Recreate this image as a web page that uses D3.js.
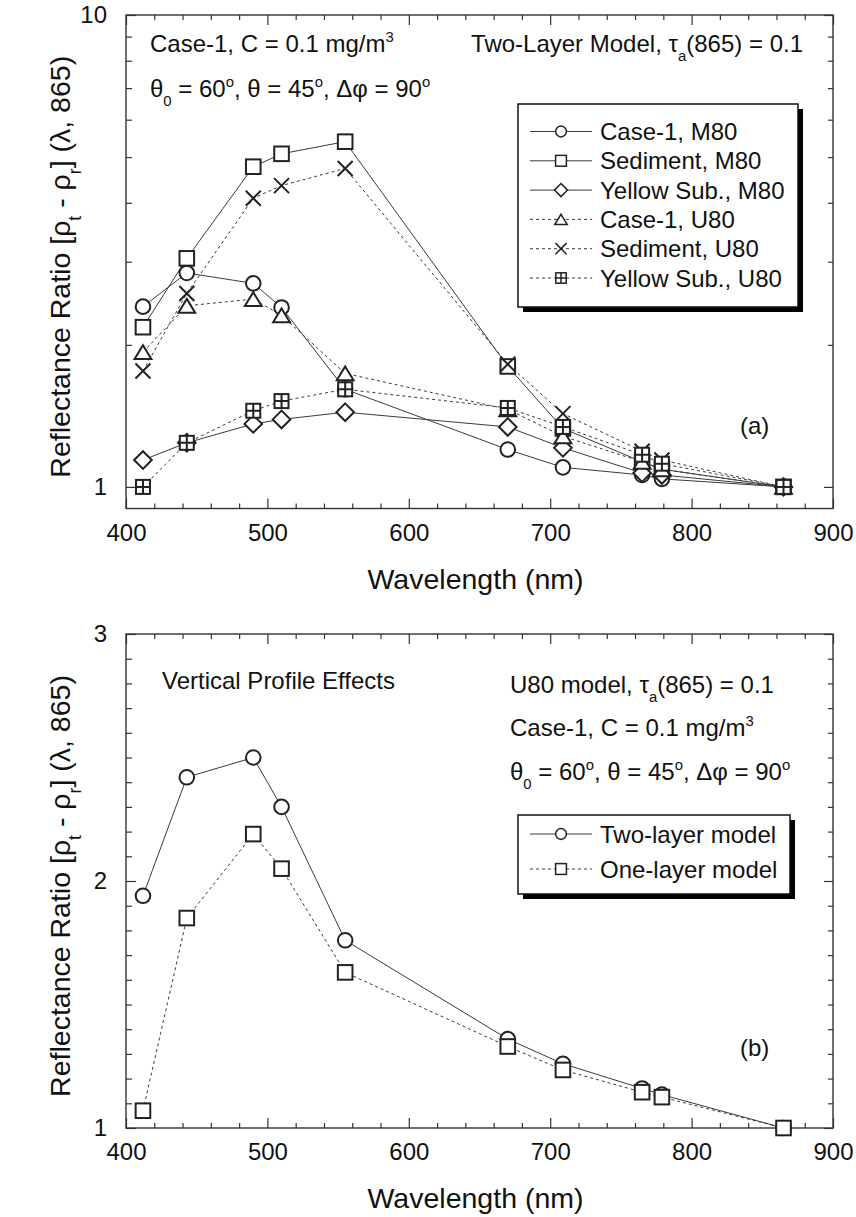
<!DOCTYPE html>
<html>
<head>
<meta charset="utf-8">
<script src="https://cdn.jsdelivr.net/npm/d3@7"></script>
<style>
  html, body { margin: 0; padding: 0; background: #fff; }
  svg { display: block; }
  text { font-family: "Liberation Sans", Arial, Helvetica, sans-serif; fill: #111; }
</style>
</head>
<body>
<svg id="chart" width="856" height="1217"></svg>
<script>
// Wavelengths of the sensor bands (nm)
const wavelengths = [412, 443, 490, 510, 555, 670, 709, 765, 779, 865];

// Panel (a): two-layer model, reflectance ratio relative to 865 nm
const case1M80    = [2.41, 2.84, 2.70, 2.40, 1.61, 1.20, 1.10, 1.06, 1.04, 1.00];
const sedimentM80 = [2.18, 3.05, 4.77, 5.08, 5.39, 1.80, 1.33, 1.13, 1.09, 1.00];
const yellowM80   = [1.14, 1.24, 1.36, 1.39, 1.44, 1.34, 1.21, 1.07, 1.06, 1.00];
const case1U80    = [1.93, 2.42, 2.50, 2.31, 1.74, 1.46, 1.28, 1.13, 1.09, 1.00];
const sedimentU80 = [1.76, 2.57, 4.09, 4.35, 4.73, 1.82, 1.43, 1.19, 1.14, 1.00];
const yellowU80   = [1.00, 1.24, 1.45, 1.52, 1.61, 1.47, 1.34, 1.17, 1.12, 1.00];

// Panel (b): vertical profile effects, U80 model
const twoLayer = [1.94, 2.42, 2.50, 2.30, 1.76, 1.36, 1.26, 1.16, 1.135, 1.00];
const oneLayer = [1.07, 1.85, 2.19, 2.05, 1.63, 1.33, 1.235, 1.145, 1.125, 1.00];

// Tick values
const xMajorTicks = [400, 500, 600, 700, 800, 900];
const xMinorTicks = d3.range(420, 900, 20).filter(v => v % 100 !== 0);
const yTicksA = [1, 10];
const yMinorA = [2, 3, 4, 5, 6, 7, 8, 9];
const yTicksB = [1, 2, 3];
const yMinorB = d3.range(1.1, 3, 0.1).filter(v => Math.abs(v - 2) > 1e-6);

const seriesA = [
  { name: "Case-1, M80",        values: case1M80,    marker: "circle",   dashed: false },
  { name: "Sediment, M80",      values: sedimentM80, marker: "square",   dashed: false },
  { name: "Yellow Sub., M80",   values: yellowM80,   marker: "diamond",  dashed: false },
  { name: "Case-1, U80",        values: case1U80,    marker: "triangle", dashed: true },
  { name: "Sediment, U80",      values: sedimentU80, marker: "cross",    dashed: true },
  { name: "Yellow Sub., U80",   values: yellowU80,   marker: "boxplus",  dashed: true }
];
const seriesB = [
  { name: "Two-layer model", values: twoLayer, marker: "circle", dashed: false },
  { name: "One-layer model", values: oneLayer, marker: "square", dashed: true }
];

const svg = d3.select("#chart");
const FS = 24;          // annotation / tick font size
const TITLE_FS = 28.5;  // axis title font size
const INK = "#222";
const LINE = "#3a3a3a";

const x = d3.scaleLinear().domain([400, 900]).range([126, 833]);
const yA = d3.scaleLog().domain([0.9, 10]).range([508.5, 15]);
const yB = d3.scaleLinear().domain([1, 3]).range([1128, 634]);

// Text with sub/superscript runs
function rich(sel, parts, size) {
  let shift = 0;
  parts.forEach(([s, mode]) => {
    const ts = sel.append("tspan").text(s);
    let target = 0;
    if (mode === "sub") target = size * 0.38;
    if (mode === "sup") target = -size * 0.42;
    ts.attr("dy", target - shift);
    shift = target;
    if (mode) ts.attr("font-size", size * 0.62);
  });
  return sel;
}

function drawMarker(g, type, cx, cy, k) {
  const s = k || 1;
  const sw = s < 1 ? 1.5 : 2;
  const m = g.append("g").attr("transform", `translate(${cx},${cy})`)
    .attr("fill", "#fff").attr("stroke", INK).attr("stroke-width", sw);
  if (type === "circle") {
    m.append("circle").attr("r", 7.3 * s);
  } else if (type === "square") {
    const h = 7.3 * s;
    m.append("rect").attr("x", -h).attr("y", -h).attr("width", 2 * h).attr("height", 2 * h);
  } else if (type === "diamond") {
    const h = 8.8 * s;
    m.append("path").attr("d", `M0,${-h}L${h},0L0,${h}L${-h},0Z`);
  } else if (type === "triangle") {
    const w = 8.4 * s, h = 6.9 * s;
    m.append("path").attr("d", `M0,${-h}L${w},${h}L${-w},${h}Z`);
  } else if (type === "cross") {
    const h = 7.5 * s;
    m.append("path").attr("fill", "none").attr("d", `M${-h},${-h}L${h},${h}M${-h},${h}L${h},${-h}`);
  } else if (type === "boxplus") {
    const h = 7 * s;
    m.append("rect").attr("x", -h).attr("y", -h).attr("width", 2 * h).attr("height", 2 * h);
    m.append("path").attr("fill", "none").attr("d", `M0,${-h}V${h}M${-h},0H${h}`);
  }
}

function drawPanel(cfg) {
  const { y, top, bottom, yMajor, yMinor, yFormat, series } = cfg;
  const left = x.range()[0], right = x.range()[1];
  const g = svg.append("g");

  // axes: all ticks point inward
  const axes = [
    [d3.axisBottom(x).tickValues(xMajorTicks).tickSize(-10).tickPadding(15).tickFormat(d3.format("d")), `translate(0,${bottom})`],
    [d3.axisBottom(x).tickValues(xMinorTicks).tickSize(-5).tickFormat(""), `translate(0,${bottom})`],
    [d3.axisTop(x).tickValues(xMajorTicks).tickSize(-10).tickFormat(""), `translate(0,${top})`],
    [d3.axisTop(x).tickValues(xMinorTicks).tickSize(-5).tickFormat(""), `translate(0,${top})`],
    [d3.axisLeft(y).tickValues(yMajor).tickSize(-10).tickPadding(19).tickFormat(yFormat), `translate(${left},0)`],
    [d3.axisLeft(y).tickValues(yMinor).tickSize(-6).tickFormat(""), `translate(${left},0)`],
    [d3.axisRight(y).tickValues(yMajor).tickSize(-9).tickFormat(""), `translate(${right},0)`],
    [d3.axisRight(y).tickValues(yMinor).tickSize(-5).tickFormat(""), `translate(${right},0)`]
  ];
  axes.forEach(([ax, tr]) => {
    const a = g.append("g").attr("transform", tr).call(ax);
    a.select(".domain").remove();
    a.selectAll(".tick line").attr("stroke", "#333").attr("stroke-width", 1.2);
    a.selectAll(".tick text").attr("font-size", FS).attr("fill", "#111")
      .attr("font-family", '"Liberation Sans", Arial, Helvetica, sans-serif');
  });

  // frame
  g.append("rect").attr("x", left).attr("y", top)
    .attr("width", right - left).attr("height", bottom - top)
    .attr("fill", "none").attr("stroke", "#333").attr("stroke-width", 1.4);

  // lines
  const line = d3.line().x(d => x(d[0])).y(d => y(d[1]));
  series.forEach(s => {
    const pts = wavelengths.map((w, i) => [w, s.values[i]]);
    g.append("path").datum(pts).attr("d", line)
      .attr("fill", "none").attr("stroke", LINE).attr("stroke-width", 1)
      .attr("stroke-dasharray", s.dashed ? "3,3" : null);
  });
  // markers
  series.forEach(s => {
    wavelengths.forEach((w, i) => drawMarker(g, s.marker, x(w), y(s.values[i]), 1));
  });

  // axis titles
  g.append("text").attr("x", (left + right) / 2 - 4).attr("y", bottom + 80)
    .attr("text-anchor", "middle").attr("font-size", TITLE_FS).text("Wavelength (nm)");
  const yt = g.append("text")
    .attr("transform", `translate(70,${(top + bottom) / 2 + 5}) rotate(-90)`)
    .attr("text-anchor", "middle").attr("font-size", TITLE_FS);
  rich(yt, [["Reflectance Ratio [\u03C1", null], ["t", "sub"], [" - \u03C1", null], ["r", "sub"], ["] (\u03BB, 865)", null]], TITLE_FS);
  return g;
}

function drawLegend(g, series, bx, by, bw, bh, rowY) {
  g.append("rect").attr("x", bx + 5).attr("y", by + 5).attr("width", bw).attr("height", bh).attr("fill", "#000");
  g.append("rect").attr("x", bx).attr("y", by).attr("width", bw).attr("height", bh)
    .attr("fill", "#fff").attr("stroke", "#111").attr("stroke-width", 1.5);
  series.forEach((s, i) => {
    const cy = rowY[i];
    g.append("line").attr("x1", bx + 12).attr("x2", bx + 74).attr("y1", cy).attr("y2", cy)
      .attr("stroke", LINE).attr("stroke-width", 1)
      .attr("stroke-dasharray", s.dashed ? "3,3" : null);
    drawMarker(g, s.marker, bx + 43, cy, 0.74);
    g.append("text").attr("x", bx + 82).attr("y", cy).attr("dy", "0.36em")
      .attr("font-size", FS).text(s.name);
  });
}

// ---- Panel (a)
const gA = drawPanel({
  y: yA, top: 15, bottom: 508.5, yMajor: yTicksA, yMinor: yMinorA,
  yFormat: d3.format("d"), series: seriesA
});
rich(gA.append("text").attr("x", 150).attr("y", 52).attr("font-size", FS),
  [["Case-1, C = 0.1 mg/m", null], ["3", "sup"]], FS);
rich(gA.append("text").attr("x", 150).attr("y", 97).attr("font-size", FS),
  [["\u03B8", null], ["0", "sub"], [" = 60", null], ["o", "sup"], [",  \u03B8 = 45", null], ["o", "sup"], [", \u0394\u03C6 = 90", null], ["o", "sup"]], FS);
rich(gA.append("text").attr("x", 803).attr("y", 52).attr("text-anchor", "end").attr("font-size", FS),
  [["Two-Layer Model, \u03C4", null], ["a", "sub"], ["(865) = 0.1", null]], FS);
drawLegend(gA, seriesA, 518, 104, 280, 203, d3.range(6).map(i => 131.5 + i * 29.3));
gA.append("text").attr("x", 740).attr("y", 434).attr("font-size", FS).text("(a)");

// ---- Panel (b)
const gB = drawPanel({
  y: yB, top: 634, bottom: 1128, yMajor: yTicksB, yMinor: yMinorB,
  yFormat: d3.format("d"), series: seriesB
});
gB.append("text").attr("x", 162).attr("y", 689).attr("font-size", FS).text("Vertical Profile Effects");
rich(gB.append("text").attr("x", 510).attr("y", 693).attr("font-size", FS),
  [["U80 model, \u03C4", null], ["a", "sub"], ["(865) = 0.1", null]], FS);
rich(gB.append("text").attr("x", 510).attr("y", 736).attr("font-size", FS),
  [["Case-1, C = 0.1 mg/m", null], ["3", "sup"]], FS);
rich(gB.append("text").attr("x", 510).attr("y", 780).attr("font-size", FS),
  [["\u03B8", null], ["0", "sub"], [" = 60", null], ["o", "sup"], [",  \u03B8 = 45", null], ["o", "sup"], [", \u0394\u03C6 = 90", null], ["o", "sup"]], FS);
drawLegend(gB, seriesB, 518, 815, 272, 79, [834, 869]);
gB.append("text").attr("x", 740).attr("y", 1056).attr("font-size", FS).text("(b)");
</script>
</body>
</html>
